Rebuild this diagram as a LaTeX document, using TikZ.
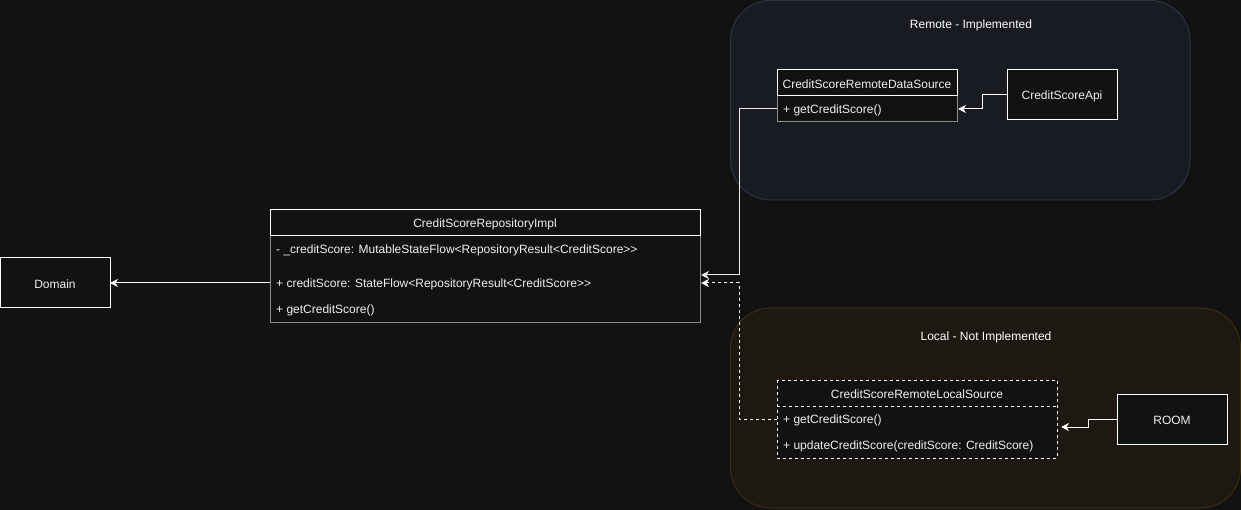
\documentclass[tikz,border=0pt]{standalone}
\usepackage{fontspec}
\setmainfont{Liberation Sans}
\usetikzlibrary{arrows.meta}
\definecolor{bg}{HTML}{121212}
\definecolor{remfill}{HTML}{181B22}
\definecolor{remline}{HTML}{2A3344}
\definecolor{locfill}{HTML}{1E1812}
\definecolor{locline}{HTML}{3A2C12}
\definecolor{txt}{HTML}{F0F0F0}
\definecolor{graybd}{HTML}{8C8C8C}
\begin{document}
\begin{tikzpicture}[x=1pt,y=-1pt,
  lbl/.style={font=\fontsize{12}{14}\selectfont, text=txt, inner sep=0pt, yshift=-1.5pt},
  grp/.style={rounded corners=40pt, line width=1pt},
  box/.style={draw=white, fill=bg, line width=1pt},
  body/.style={draw=graybd, fill=bg, line width=1pt},
  conn/.style={draw=white, line width=1pt, -{Stealth[length=8pt,width=8pt,inset=2.5pt]}},
  title/.style={lbl, text=white}
]
\fill[bg] (0,0) rectangle (1241,510);
\useasboundingbox (0,0) rectangle (1241,510);
% groups
\draw[grp, fill=remfill, draw=remline] (730.5,0.5) rectangle (1190,200);
\draw[grp, fill=locfill, draw=locline] (730.5,308) rectangle (1240.5,508);
\node[title] (remtitle) at (971,24) {Remote - Implemented};
\node[title] (loctitle) at (986,336) {Local - Not Implemented};

% Domain
\draw[box] (0.5,258) rectangle (110,308);
\node[lbl] (domain) at (55,283) {Domain};
\coordinate (domainR) at (110,283);

% Repository
\draw[body] (270,236) rectangle (700,322);
\draw[box] (270,210) rectangle (700,236);
\node[lbl] (repo) at (485,223) {CreditScoreRepositoryImpl};
\node[lbl, anchor=west] (repo1) at (276,249) {- \_creditScore: MutableStateFlow<RepositoryResult<CreditScore>{}>};
\node[lbl, anchor=west] (repo2) at (276,283) {+ creditScore: StateFlow<RepositoryResult<CreditScore>{}>};
\node[lbl, anchor=west] (repo3) at (276,309) {+ getCreditScore()};
\coordinate (repoL) at (270,283);
\coordinate (repoA) at (701,275);
\coordinate (repoB) at (701,283);

% Remote data source
\draw[body] (777,96) rectangle (957,122);
\draw[box] (777,70) rectangle (957,96);
\node[lbl] (rds) at (867,83) {CreditScoreRemoteDataSource};
\node[lbl, anchor=west] (rds1) at (783,109) {+ getCreditScore()};
\coordinate (rdsL) at (777,109);
\coordinate (rdsR) at (958,109);

% Api
\draw[box] (1007,70) rectangle (1117,120);
\node[lbl] (api) at (1062,95) {CreditScoreApi};
\coordinate (apiL) at (1007,95);

% Local source
\draw[draw=white, fill=bg, line width=0.8pt, dashed] (777,380) rectangle (1057,458);
\draw[draw=white, line width=0.8pt, dashed] (777,406) -- (1057,406);
\node[lbl] (lds) at (917,393) {CreditScoreRemoteLocalSource};
\node[lbl, anchor=west] (lds1) at (783,419) {+ getCreditScore()};
\node[lbl, anchor=west] (lds2) at (783,445) {+ updateCreditScore(creditScore: CreditScore)};
\coordinate (ldsL) at (777,419);
\coordinate (ldsR) at (1061,427);

% ROOM
\draw[box] (1117,394) rectangle (1227,444);
\node[lbl] (room) at (1172,419) {ROOM};
\coordinate (roomL) at (1117,419);

% connectors
\draw[conn] (repoL) -- (domainR);
\draw[conn] (apiL) -- (982,95) -- (982,109) -- (rdsR);
\draw[conn] (roomL) -- (1088,419) -- (1088,427) -- (ldsR);
\draw[conn, draw=white!85!gray] (rdsL) -- (739,109) -- (739,275) -- (repoA);
\draw[conn, dashed] (ldsL) -- (739,419) -- (739,283) -- (repoB);
\end{tikzpicture}
\end{document}
